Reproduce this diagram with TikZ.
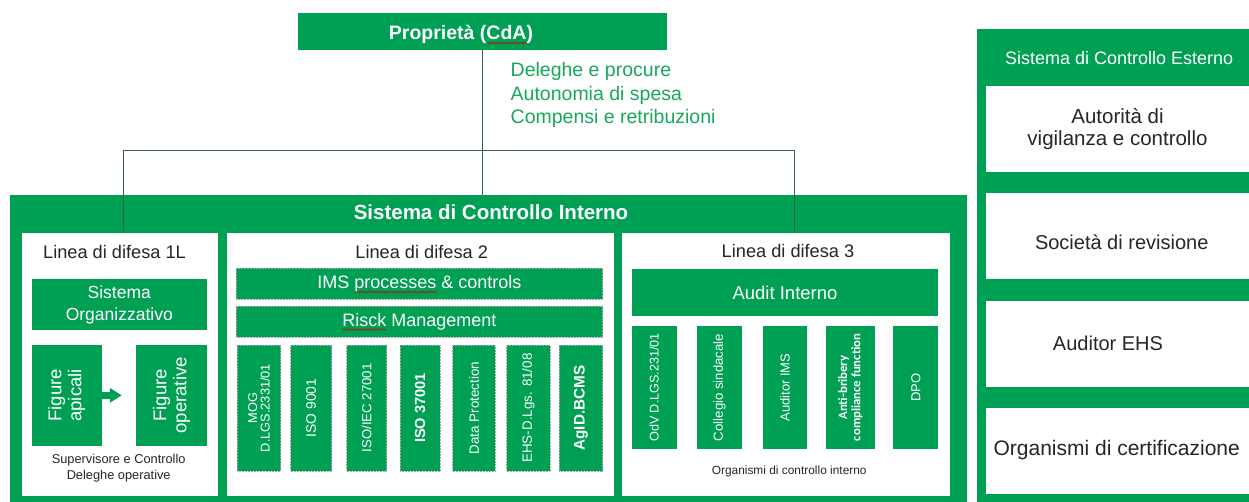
\documentclass[tikz,border=0pt]{standalone}
\usepackage{fontspec}
\setmainfont{Liberation Sans}
\newfontfamily\calfont{Carlito}
\usetikzlibrary{arrows.meta,decorations.pathmorphing}
\definecolor{gr}{RGB}{0,160,84}
\definecolor{tgr}{RGB}{24,168,92}
\definecolor{dk}{RGB}{38,38,38}
\definecolor{ln}{RGB}{55,95,80}
\newcommand\fs[2]{\fontsize{#1}{#2}\selectfont}
\newcommand\bx[7][]{\node[#1,minimum width={(#5-#3)*1pt},minimum height={(#6-#4)*1pt}] (#2) at ({(#3+#5)/2},{(#4+#6)/2}) {#7};}
\newcommand\vbx[7][]{\node[#1,rotate=90,minimum width={(#6-#4)*1pt},minimum height={(#5-#3)*1pt}] (#2) at ({(#3+#5)/2},{(#4+#6)/2}) {#7};}
\begin{document}
\begin{tikzpicture}[x=1pt,y=-1pt,
  gbox/.style={fill=gr,draw=none,inner sep=0pt,text=white,align=center},
  wbox/.style={fill=white,draw=none,inner sep=0pt,text=dk,align=center},
  dotb/.style={gbox,draw=black!35,densely dotted,line width=0.5pt},
  txt/.style={inner sep=0pt,text=dk,anchor=base},
  link/.style={draw=ln,line width=0.75pt},
  squig/.style={draw=red!80!black,line width=0.5pt,decorate,decoration={snake,amplitude=0.7pt,segment length=2.5pt}}]
\useasboundingbox (0,0) rectangle (1249,502);
\fill[white] (0,0) rectangle (1249,502);

% top
\bx[gbox]{prop}{298}{13}{667}{50}{}
\node[txt,text=white,font=\bfseries\fs{19.5}{22}] (propt) at (461,40) {Proprietà (CdA)};
\node[txt,anchor=base west,text=tgr,font=\fs{19.5}{23}] (d1) at (510.5,77) {Deleghe e procure};
\node[txt,anchor=base west,text=tgr,font=\fs{19.5}{23}] (d2) at (510.5,100.5) {Autonomia di spesa};
\node[txt,anchor=base west,text=tgr,font=\fs{19.5}{23}] (d3) at (510.5,124) {Compensi e retribuzioni};

% internal system
\bx[gbox]{sci}{10}{195.5}{967}{502}{}
\node[txt,text=white,font=\bfseries\fs{20.5}{24}] (scit) at (491,220) {Sistema di Controllo Interno};

% line 1
\bx[wbox]{l1}{21.5}{233}{217.5}{495.5}{}
\node[txt,font=\fs{18.2}{22}] (l1t) at (114.5,259) {Linea di difesa 1L};
\bx[gbox,font=\fs{17.5}{22.5}]{so}{31.5}{279.5}{207}{330}{Sistema\\Organizzativo}
\vbx[gbox,font=\fs{18.5}{20}]{fa}{31.5}{345}{101.7}{445.7}{Figure\\apicali}
\vbx[gbox,font=\fs{18.5}{20}]{fo}{136}{345}{207}{445.7}{Figure\\operative}
\draw[gr,line width=6.5pt,-{Triangle[length=12pt,width=14pt]}] (fa.south) -- ([xshift=-14pt]fo.north);
\node[txt,font=\fs{12.8}{15}] (sup1) at (118.7,463) {Supervisore e Controllo};
\node[txt,font=\fs{12.8}{15}] (sup2) at (118.7,479) {Deleghe operative};

% line 2
\bx[wbox]{l2}{226.5}{233}{614}{495.5}{}
\node[txt,font=\fs{18.2}{22}] (l2t) at (421.7,258.3) {Linea di difesa 2};
\bx[dotb,font=\fs{18}{22}]{ims}{236}{268.3}{602.7}{299}{IMS processes \& controls}
\bx[dotb,font=\fs{18}{22}]{risk}{236}{306}{602.7}{337.3}{Risck Management}
\vbx[dotb,font=\fs{12.8}{12.5}]{mog}{237.3}{345}{280.7}{471}{MOG\\D.LGS.2331/01}
\vbx[dotb,font=\fs{13.8}{16}]{iso9}{290.7}{345}{331.7}{471}{ISO 9001}
\vbx[dotb,font=\fs{13.2}{16}]{iso27}{346.7}{345}{386.7}{471}{ISO/IEC 27001}
\vbx[dotb,font=\bfseries\fs{14.6}{16}]{iso37}{400}{345}{440}{471}{ISO 37001}
\vbx[dotb,font=\fs{13.4}{16}]{dp}{452.7}{345}{495.3}{471}{Data Protection}
\vbx[dotb,font=\fs{13.4}{16}]{ehs}{506.7}{345}{550}{471}{EHS-D.Lgs. 81/08}
\vbx[dotb,font=\bfseries\fs{15.3}{16}]{agid}{559}{345}{602.7}{471}{AgID.BCMS}
\draw[squig] (355,292) -- (437,292);
\draw[squig] (343,329.5) -- (386.5,329.5);
\draw[squig] (487.5,43) -- (527,43);

% line 3
\bx[wbox]{l3}{621.5}{233}{950}{495.5}{}
\node[txt,font=\fs{18.2}{22}] (l3t) at (788,258) {Linea di difesa 3};
\bx[gbox,font=\fs{18.5}{22}]{audit}{631.7}{269.3}{938.3}{315.7}{Audit Interno}
\vbx[gbox,font=\fs{12.6}{15}]{odv}{631.7}{325.7}{676.7}{449.3}{OdV D.LGS.231/01}
\vbx[gbox,font=\fs{13.2}{15}]{coll}{697.3}{325.7}{741.7}{449.3}{Collegio sindacale}
\vbx[gbox,font=\fs{13}{15}]{aud}{762.7}{325.7}{807.3}{449.3}{Auditor IMS}
\vbx[gbox,font=\calfont\bfseries\fs{12.7}{13.3}]{abc}{825.7}{325.7}{875}{449.3}{Anti-bribery\\compliance function}
\vbx[gbox,font=\fs{13}{15}]{dpo}{893.3}{325.7}{938.3}{449.3}{DPO}
\node[txt,font=\fs{11.9}{14}] (oci) at (789.2,474.3) {Organismi di controllo interno};

% connectors
\coordinate (hl) at (123,150.5);
\coordinate (hr) at (794,150.5);
\draw[link] (prop.south) -- (prop.south |- sci.north);
\draw[link] (l1.north -| hl) -- (hl) -- (hr) -- (l3.north -| hr);

% external system
\bx[gbox]{sce}{976.5}{29.3}{1249}{502}{}
\node[txt,text=white,font=\fs{18}{22}] (scet) at (1119.2,64.3) {Sistema di Controllo Esterno};
\bx[wbox,font=\fs{20.5}{22.7}]{e1}{986}{86}{1249}{172.3}{Autorità di\\vigilanza e controllo}
\bx[wbox]{e2}{986}{193.3}{1249}{279.3}{}
\node[txt,font=\fs{20}{24}] (e2t) at (1121.7,250) {Società di revisione};
\bx[wbox]{e3}{986}{300.7}{1249}{386.7}{}
\node[txt,font=\fs{20}{24}] (e3t) at (1108,350) {Auditor EHS};
\bx[wbox]{e4}{986}{408.3}{1249}{494}{}
\node[txt,font=\fs{21}{24}] (e4t) at (1116.7,455) {Organismi di certificazione};
\end{tikzpicture}
\end{document}
